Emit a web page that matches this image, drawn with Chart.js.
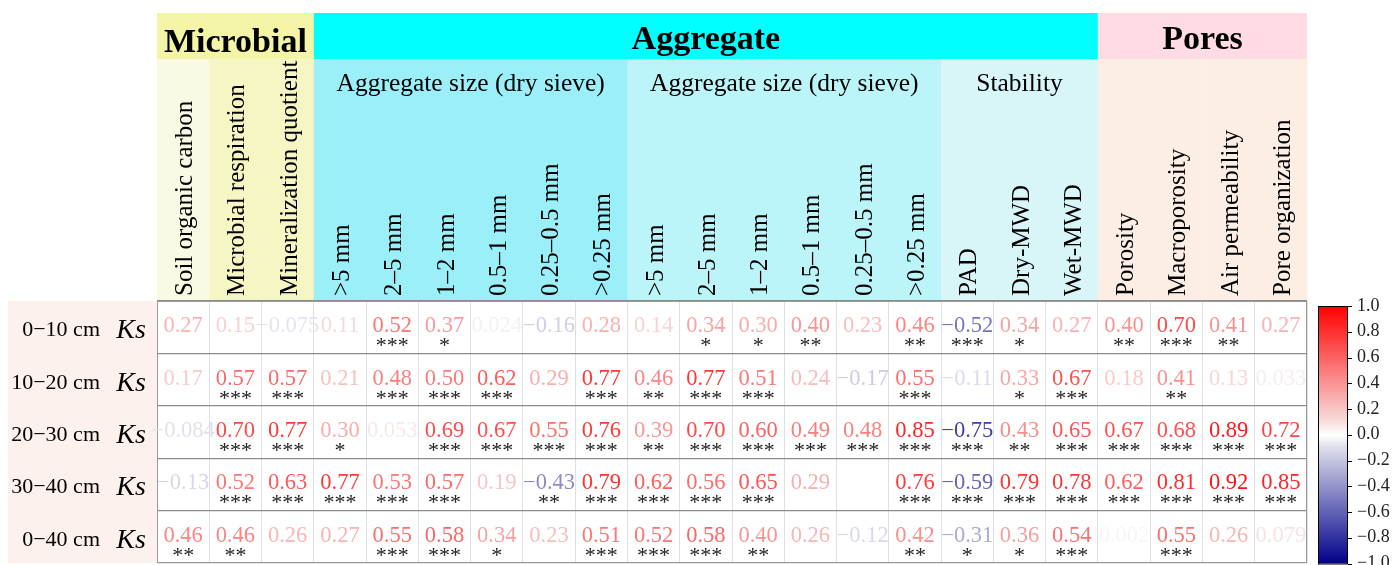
<!DOCTYPE html>
<html>
<head>
<meta charset="utf-8">
<script src="https://cdn.jsdelivr.net/npm/chart.js@4"></script>
<style>
  html, body { margin: 0; padding: 0; background: #fff; }
  #wrap { width: 1394px; height: 565px; }
</style>
</head>
<body>
<div id="wrap"><canvas id="heat" width="1394" height="565"></canvas></div>
<script>
// soil layers (rows) and soil properties (columns)
const depths = ['0−10 cm', '10−20 cm', '20−30 cm', '30−40 cm', '0−40 cm'];
const variables = [
  'Soil organic carbon', 'Microbial respiration', 'Mineralization quotient',
  '>5 mm', '2–5 mm', '1–2 mm', '0.5–1 mm', '0.25–0.5 mm', '>0.25 mm',
  '>5 mm', '2–5 mm', '1–2 mm', '0.5–1 mm', '0.25–0.5 mm', '>0.25 mm',
  'PAD', 'Dry-MWD', 'Wet-MWD',
  'Porosity', 'Macroporosity', 'Air permeability', 'Pore organization'
];
const groups = ['Microbial', 'Aggregate', 'Pores'];
const groupSizes = [3, 15, 4];
const subgroups = ['', 'Aggregate size (dry sieve)', 'Aggregate size (dry sieve)', 'Stability', ''];
const subgroupSizes = [3, 6, 6, 3, 4];

// correlation of Ks with each property, per layer (null = not shown)
const r0_10  = [0.27, 0.15, -0.075, 0.11, 0.52, 0.37, 0.024, -0.16, 0.28, 0.14, 0.34, 0.30, 0.40, 0.23, 0.46, -0.52, 0.34, 0.27, 0.40, 0.70, 0.41, 0.27];
const r10_20 = [0.17, 0.57, 0.57, 0.21, 0.48, 0.50, 0.62, 0.29, 0.77, 0.46, 0.77, 0.51, 0.24, -0.17, 0.55, -0.11, 0.33, 0.67, 0.18, 0.41, 0.13, 0.033];
const r20_30 = [-0.084, 0.70, 0.77, 0.30, 0.053, 0.69, 0.67, 0.55, 0.76, 0.39, 0.70, 0.60, 0.49, 0.48, 0.85, -0.75, 0.43, 0.65, 0.67, 0.68, 0.89, 0.72];
const r30_40 = [-0.13, 0.52, 0.63, 0.77, 0.53, 0.57, 0.19, -0.43, 0.79, 0.62, 0.56, 0.65, 0.29, null, 0.76, -0.59, 0.79, 0.78, 0.62, 0.81, 0.92, 0.85];
const r0_40  = [0.46, 0.46, 0.26, 0.27, 0.55, 0.58, 0.34, 0.23, 0.51, 0.52, 0.58, 0.40, 0.26, -0.12, 0.42, -0.31, 0.36, 0.54, 0.002, 0.55, 0.26, 0.079];

// significance marks
const sig0_10  = ['', '', '', '', '***', '*', '', '', '', '', '*', '*', '**', '', '**', '***', '*', '', '**', '***', '**', ''];
const sig10_20 = ['', '***', '***', '', '***', '***', '***', '', '***', '**', '***', '***', '', '', '***', '', '*', '***', '', '**', '', ''];
const sig20_30 = ['', '***', '***', '*', '', '***', '***', '***', '***', '**', '***', '***', '***', '***', '***', '***', '**', '***', '***', '***', '***', '***'];
const sig30_40 = ['', '***', '***', '***', '***', '***', '', '**', '***', '***', '***', '***', '', '', '***', '***', '***', '***', '***', '***', '***', '***'];
const sig0_40  = ['**', '**', '', '', '***', '***', '*', '', '***', '***', '***', '**', '', '', '**', '*', '*', '***', '', '***', '', ''];

const cbTicks = [1.0, 0.8, 0.6, 0.4, 0.2, 0.0, -0.2, -0.4, -0.6, -0.8, -1.0];

const rows = [r0_10, r10_20, r20_30, r30_40, r0_40];
const sigs = [sig0_10, sig10_20, sig20_30, sig30_40, sig0_40];

const cells = [];
rows.forEach((vals, r) => vals.forEach((v, c) => {
  cells.push({ x: c, y: r, v: v, s: sigs[r][c] });
}));

const SERIF = '"Liberation Serif", "Times New Roman", serif';

// dark blue -> white -> red
function cmap(v) {
  const t = Math.max(-1, Math.min(1, v));
  const mid = 246;
  if (t >= 0) {
    const g = Math.round(mid * (1 - t));
    return `rgb(${Math.round(mid + (255 - mid) * t)},${g},${g})`;
  }
  const u = -t;
  const rg = Math.round(mid * (1 - u));
  const b = Math.round(mid * (1 - u) + 139 * u);
  return `rgb(${rg},${rg},${b})`;
}

function fmt(v) {
  const a = Math.abs(v);
  const s = a >= 0.1 ? a.toFixed(2) : String(a);
  return (v < 0 ? '−' : '') + s;
}

const groupColors = ['#f4f4a6', '#00ffff', '#ffdce4'];
const subColors = ['#fafae4', '#f6f6c4', '#f6f6c4', '#9beff9', '#9beff9', '#9beff9', '#9beff9', '#9beff9', '#9beff9',
  '#bcf5f9', '#bcf5f9', '#bcf5f9', '#bcf5f9', '#bcf5f9', '#bcf5f9', '#d8f5f8', '#d8f5f8', '#d8f5f8',
  '#fdeee5', '#fdeee5', '#fdeee5', '#fdeee5'];

const tablePlugin = {
  id: 'table',
  beforeDraw(chart) {
    const { ctx, chartArea: area, scales: { x, y } } = chart;
    const w = x.width / variables.length;
    const edge = i => x.left + i * w;
    const headTop = 13, headMid = 59;

    ctx.save();
    // row label panel
    ctx.fillStyle = '#fcf1ec';
    ctx.fillRect(8, area.top, area.left - 8, area.bottom - area.top);

    // column header backgrounds
    subColors.forEach((col, i) => {
      ctx.fillStyle = col;
      ctx.fillRect(edge(i), headMid, w + 0.5, area.top - headMid);
    });

    // group bands
    let start = 0;
    groups.forEach((g, i) => {
      const x0 = edge(start), x1 = edge(start + groupSizes[i]);
      ctx.fillStyle = groupColors[i];
      ctx.fillRect(x0, headTop, x1 - x0, headMid - headTop);
      ctx.fillStyle = '#000';
      ctx.font = 'bold 34px ' + SERIF;
      ctx.textAlign = 'center';
      ctx.textBaseline = 'alphabetic';
      ctx.fillText(g, (x0 + x1) / 2, i === 0 ? 52 : 49);
      start += groupSizes[i];
    });

    // sub-group titles
    start = 0;
    ctx.font = '25.5px ' + SERIF;
    subgroups.forEach((s, i) => {
      if (s) {
        const x0 = edge(start), x1 = edge(start + subgroupSizes[i]);
        ctx.fillText(s, (x0 + x1) / 2, 91);
      }
      start += subgroupSizes[i];
    });

    // vertical column names
    ctx.textAlign = 'left';
    ctx.font = '25px ' + SERIF;
    variables.forEach((name, i) => {
      const cx = x.getPixelForValue(i);
      ctx.save();
      ctx.translate(cx + 9, area.top - 5);
      ctx.rotate(-Math.PI / 2);
      ctx.fillText(name, 0, 0);
      ctx.restore();
    });

    // row names
    depths.forEach((d, r) => {
      const cy = y.getPixelForValue(r);
      ctx.font = '22px ' + SERIF;
      ctx.textAlign = 'right';
      ctx.fillText(d, 100, cy + 9);
      ctx.font = 'italic 28px ' + SERIF;
      ctx.textAlign = 'center';
      ctx.fillText('Ks', 131, cy + 11);
    });
    ctx.restore();
  },
  beforeDatasetsDraw(chart) {
    const { ctx, chartArea: a } = chart;
    ctx.save();
    ctx.strokeStyle = '#9a9a9a';
    ctx.lineWidth = 1;
    ctx.strokeRect(a.left + 0.5, a.top + 0.5, a.right - a.left - 1, a.bottom - a.top - 1);
    ctx.restore();
  },
  afterDatasetsDraw(chart) {
    const { ctx } = chart;
    const meta = chart.getDatasetMeta(0);
    ctx.save();
    ctx.textAlign = 'center';
    ctx.textBaseline = 'alphabetic';
    meta.data.forEach((pt, i) => {
      const d = cells[i];
      if (d.v === null) return;
      ctx.font = '22.5px ' + SERIF;
      ctx.fillStyle = cmap(d.v);
      ctx.fillText(fmt(d.v), pt.x, pt.y + 5);
      if (d.s) {
        ctx.font = '22px ' + SERIF;
        ctx.fillStyle = '#222';
        ctx.fillText(d.s, pt.x, pt.y + 25);
      }
    });
    ctx.restore();
  },
  afterDraw(chart) {
    // colour bar
    const { ctx } = chart;
    const bx = 1318, bw = 30, top = 306, bottom = 563.5;
    const pos = v => top + (1 - v) / 2 * (bottom - top);
    ctx.save();
    const grad = ctx.createLinearGradient(0, top, 0, bottom);
    for (let k = 0; k <= 20; k++) {
      const v = 1 - k / 10;
      grad.addColorStop(k / 20, v === 0 ? '#fff' : cmap(v));
    }
    ctx.fillStyle = grad;
    ctx.fillRect(bx, top, bw, bottom - top);
    ctx.strokeStyle = '#000';
    ctx.lineWidth = 1;
    ctx.strokeRect(bx + 0.5, top + 0.5, bw - 1, bottom - top);
    ctx.font = '18px ' + SERIF;
    ctx.fillStyle = '#222';
    ctx.textAlign = 'left';
    ctx.textBaseline = 'middle';
    cbTicks.forEach(t => {
      const yy = pos(t);
      ctx.beginPath();
      ctx.moveTo(bx + bw, Math.round(yy) + 0.5);
      ctx.lineTo(bx + bw + 4, Math.round(yy) + 0.5);
      ctx.stroke();
      ctx.fillText((t < 0 ? '−' : '') + Math.abs(t).toFixed(1), bx + bw + 9, yy);
    });
    ctx.restore();
  }
};

new Chart(document.getElementById('heat'), {
  type: 'scatter',
  data: {
    datasets: [{
      data: cells,
      parsing: false,
      pointRadius: 0,
      pointHoverRadius: 0
    }]
  },
  options: {
    responsive: false,
    animation: false,
    events: [],
    layout: { padding: { left: 157, top: 301, right: 87, bottom: 2 } },
    plugins: { legend: { display: false }, tooltip: { enabled: false } },
    scales: {
      x: {
        type: 'category',
        labels: variables,
        position: 'top',
        offset: true,
        ticks: { display: false },
        grid: { offset: true, drawTicks: false, color: '#e0e0e0', lineWidth: 1 },
        border: { display: false }
      },
      y: {
        type: 'category',
        labels: depths,
        offset: true,
        ticks: { display: false },
        grid: { offset: true, drawTicks: false, color: '#8c8c8c', lineWidth: 1.3 },
        border: { display: false }
      }
    }
  },
  plugins: [tablePlugin]
});
</script>
</body>
</html>
